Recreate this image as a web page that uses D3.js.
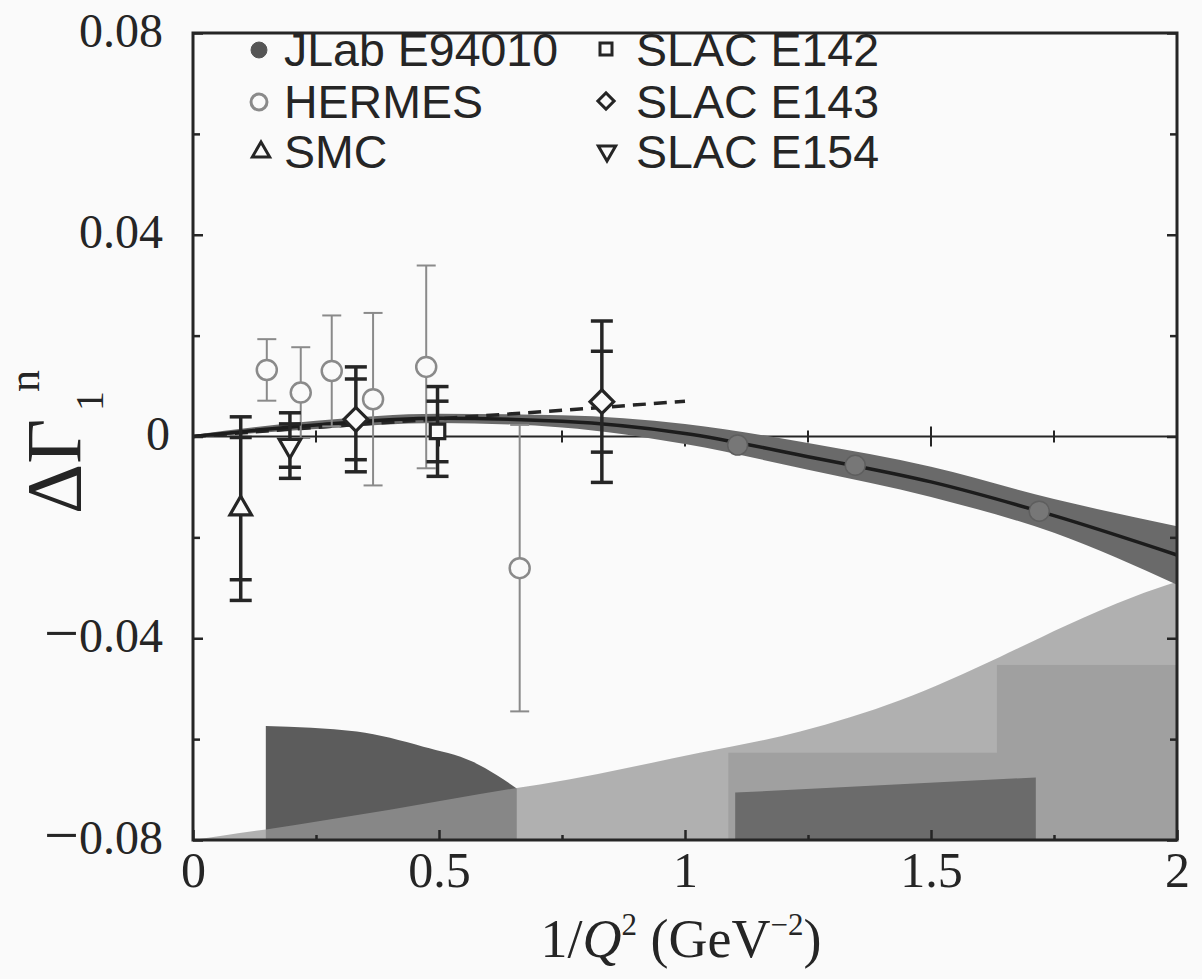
<!DOCTYPE html>
<html><head><meta charset="utf-8">
<script src="https://cdn.jsdelivr.net/npm/d3@7"></script>
<style>body{margin:0;background:#fafafa}svg{display:block}</style>
</head><body><svg id="c" width="1202" height="979"></svg>
<script>
// ---------- data ----------
const xTicks = [0, 0.5, 1, 1.5, 2];
const xTickLabels = ["0", "0.5", "1", "1.5", "2"];
const xMinorTicks = [0.25, 0.75, 1.25, 1.75];
const yTicks = [0.08, 0.04, 0, -0.04, -0.08];
const yTickLabels = ["0.08", "0.04", "0", "\u22120.04", "\u22120.08"];
const yMinorTicks = [0.06, 0.02, -0.02, -0.06];

const hermesX = [0.150, 0.219, 0.282, 0.366, 0.474, 0.664];
const hermesY = [0.0132, 0.0087, 0.0130, 0.0074, 0.0138, -0.0261];
const hermesErr = [0.0061, 0.0090, 0.0110, 0.0171, 0.0201, 0.0284];

const smcX = [0.097], smcY = [-0.0143], smcErr = [0.0182], smcStat = [0.0141];
const e154X = [0.197], e154Y = [-0.0018], e154Err = [0.0065], e154Stat = [0.0043];
const e143X = [0.331, 0.831], e143Y = [0.0034, 0.0069], e143Err = [0.0104, 0.0160], e143Stat = [0.0080, 0.0100];
const e142X = [0.497], e142Y = [0.0010], e142Err = [0.0089], e142Stat = [0.0060];

const jlabX = [1.107, 1.346, 1.720];
const jlabY = [-0.0017, -0.0057, -0.0148];

const curveX = [0, 0.25, 0.5, 0.75, 1, 1.25, 1.5, 1.75, 2];
const curveY = [0, 0.0023, 0.0036, 0.0030, 0.0006, -0.0040, -0.0090, -0.0157, -0.0235];
const bandHi = [0.0003, 0.0031, 0.0045, 0.0042, 0.0025, -0.0013, -0.0060, -0.0124, -0.0178];
const bandLo = [-0.0003, 0.0015, 0.0027, 0.0018, -0.0015, -0.0066, -0.0120, -0.0191, -0.0294];

const dashX = [0, 0.25, 0.5, 0.75, 1.0];
const dashY = [0, 0.0018, 0.0035, 0.0052, 0.0070];

// systematic-error regions at the bottom
const lightX = [0, 0.062, 0.148, 0.40, 0.658, 0.705, 1.03, 1.234, 1.437, 1.64, 1.776, 1.911, 2.0];
const lightY = [-0.080, -0.0791, -0.0779, -0.0740, -0.0697, -0.0690, -0.0627, -0.0585, -0.0523, -0.0437, -0.0374, -0.0318, -0.0288];
const darkTopX = [0.148, 0.333, 0.468, 0.569, 0.617, 0.658];
const darkTopY = [-0.0574, -0.0585, -0.0615, -0.0645, -0.0671, -0.0698];
const medX0 = [1.088, 1.634], medX1 = [1.634, 2.0], medTop = [-0.0627, -0.0453];
const darkRectX = [1.102, 1.713], darkRectTop = [-0.0706, -0.0676];

const legendNames = ["JLab E94010", "HERMES", "SMC", "SLAC E142", "SLAC E143", "SLAC E154"];

// ---------- scales ----------
const svg = d3.select("#c");
const x = d3.scaleLinear().domain([0, 2]).range([193, 1177]);
const y = d3.scaleLinear().domain([-0.08, 0.08]).range([840, 33]);
const INK = "#252525", GRAYINK = "#8a8a8a";
const serif = "'Liberation Serif','Times New Roman',serif";
const sans = "'Liberation Sans',Arial,Helvetica,sans-serif";

svg.append("rect").attr("width", 1202).attr("height", 979).attr("fill", "#fafafa");

// ---------- bottom shaded regions ----------
const darkLine = d3.line().x((d, i) => x(darkTopX[i])).y((d, i) => y(darkTopY[i])).curve(d3.curveMonotoneX);
svg.append("path")
  .attr("d", "M" + x(darkTopX[0]) + "," + y(-0.08) + "L" + darkLine(darkTopX).slice(1) +
             "L" + x(darkTopX[darkTopX.length - 1]) + "," + y(-0.08) + "Z")
  .attr("fill", "#5c5c5c");

const lightArea = d3.area().x((d, i) => x(lightX[i])).y0(y(-0.08)).y1((d, i) => y(lightY[i])).curve(d3.curveMonotoneX);
svg.append("path").datum(lightX).attr("d", lightArea).attr("fill", "rgb(150,150,150)").attr("fill-opacity", 0.74);

svg.selectAll("rect.med").data(medX0).join("rect").attr("class", "med")
  .attr("x", (d, i) => x(medX0[i])).attr("width", (d, i) => x(medX1[i]) - x(medX0[i]))
  .attr("y", (d, i) => y(medTop[i])).attr("height", (d, i) => y(-0.08) - y(medTop[i]))
  .attr("fill", "#a0a0a0");

svg.append("path")
  .attr("d", "M" + x(darkRectX[0]) + "," + y(-0.08) + "L" + x(darkRectX[0]) + "," + y(darkRectTop[0]) +
             "L" + x(darkRectX[1]) + "," + y(darkRectTop[1]) + "L" + x(darkRectX[1]) + "," + y(-0.08) + "Z")
  .attr("fill", "#6b6b6b");

// ---------- zero line with ticks ----------
svg.append("line").attr("x1", x(0)).attr("x2", x(2)).attr("y1", y(0)).attr("y2", y(0))
  .attr("stroke", INK).attr("stroke-width", 2);
svg.selectAll("line.zt").data(xTicks.slice(1, -1).concat(xMinorTicks)).join("line").attr("class", "zt")
  .attr("x1", d => x(d)).attr("x2", d => x(d))
  .attr("y1", d => y(0) - (xTicks.includes(d) ? 10 : 6)).attr("y2", d => y(0) + (xTicks.includes(d) ? 10 : 6))
  .attr("stroke", INK).attr("stroke-width", 2);

// ---------- band & curves ----------
const band = d3.area().x((d, i) => x(curveX[i])).y0((d, i) => y(bandLo[i])).y1((d, i) => y(bandHi[i])).curve(d3.curveMonotoneX);
svg.append("path").datum(curveX).attr("d", band).attr("fill", "#6a6a6a");

const dashLine = d3.line().x((d, i) => x(dashX[i])).y((d, i) => y(dashY[i])).curve(d3.curveMonotoneX);
svg.append("path").datum(dashX).attr("d", dashLine).attr("fill", "none")
  .attr("stroke", INK).attr("stroke-width", 3.5).attr("stroke-dasharray", "13,8");

const solid = d3.line().x((d, i) => x(curveX[i])).y((d, i) => y(curveY[i])).curve(d3.curveMonotoneX);
svg.append("path").datum(curveX).attr("d", solid).attr("fill", "none")
  .attr("stroke", "#1c1c1c").attr("stroke-width", 3.5);

svg.selectAll("circle.jlab").data(jlabX).join("circle").attr("class", "jlab")
  .attr("cx", (d, i) => x(jlabX[i])).attr("cy", (d, i) => y(jlabY[i])).attr("r", 10)
  .attr("fill", "#777").attr("stroke", "#5e5e5e").attr("stroke-width", 1.5);

// ---------- error bars ----------
function errBars(xs, ys, outer, inner, color, width, cap) {
  const g = svg.append("g").attr("stroke", color).attr("stroke-width", width).attr("fill", "none");
  xs.forEach((xv, i) => {
    const cx = x(xv);
    g.append("line").attr("x1", cx).attr("x2", cx).attr("y1", y(ys[i] + outer[i])).attr("y2", y(ys[i] - outer[i]));
    const levels = [ys[i] + outer[i], ys[i] - outer[i]];
    if (inner) levels.push(ys[i] + inner[i], ys[i] - inner[i]);
    levels.forEach(v => g.append("line").attr("x1", cx - cap / 2).attr("x2", cx + cap / 2).attr("y1", y(v)).attr("y2", y(v)));
  });
}
errBars(hermesX, hermesY, hermesErr, null, GRAYINK, 2, 19);
svg.selectAll("circle.her").data(hermesX).join("circle").attr("class", "her")
  .attr("cx", (d, i) => x(hermesX[i])).attr("cy", (d, i) => y(hermesY[i])).attr("r", 10)
  .attr("fill", "#fafafa").attr("stroke", GRAYINK).attr("stroke-width", 2.5);

errBars(smcX, smcY, smcErr, smcStat, INK, 3.5, 22);
errBars(e154X, e154Y, e154Err, e154Stat, INK, 3.5, 22);
errBars(e143X, e143Y, e143Err, e143Stat, INK, 3.5, 22);
errBars(e142X, e142Y, e142Err, e142Stat, INK, 3.5, 22);

function marks(xs, ys, type, size, rot) {
  const sym = d3.symbol().type(type).size(size);
  svg.selectAll(null).data(xs).join("path")
    .attr("transform", (d, i) => "translate(" + x(xs[i]) + "," + y(ys[i]) + ") rotate(" + rot + ")")
    .attr("d", sym).attr("fill", "#fafafa").attr("stroke", INK).attr("stroke-width", 3.2);
}
marks(smcX, smcY, d3.symbolTriangle, 200, 0);
marks(e154X, e154Y, d3.symbolTriangle, 200, 180);
marks(e143X, e143Y, d3.symbolSquare, 280, 45);
marks(e142X, e142Y, d3.symbolSquare, 210, 0);

// ---------- axes ----------
const axL = svg.append("g").attr("transform", "translate(" + x(0) + ",0)")
  .call(d3.axisLeft(y).tickValues(yTicks).tickFormat((d, i) => yTickLabels[i]).tickSize(-10).tickPadding(30));
const axLm = svg.append("g").attr("transform", "translate(" + x(0) + ",0)")
  .call(d3.axisLeft(y).tickValues(yMinorTicks).tickFormat("").tickSize(-7));
const axR = svg.append("g").attr("transform", "translate(" + x(2) + ",0)")
  .call(d3.axisRight(y).tickValues(yTicks).tickFormat("").tickSize(-10));
const axRm = svg.append("g").attr("transform", "translate(" + x(2) + ",0)")
  .call(d3.axisRight(y).tickValues(yMinorTicks).tickFormat("").tickSize(-7));
const axB = svg.append("g").attr("transform", "translate(0," + y(-0.08) + ")")
  .call(d3.axisBottom(x).tickValues(xTicks).tickFormat((d, i) => xTickLabels[i]).tickSize(-10));
const axBm = svg.append("g").attr("transform", "translate(0," + y(-0.08) + ")")
  .call(d3.axisBottom(x).tickValues(xMinorTicks).tickFormat("").tickSize(-5));
[axL, axLm, axR, axRm, axB, axBm].forEach(a => {
  a.select(".domain").remove();
  a.selectAll("line").attr("stroke", INK).attr("stroke-width", 2.5);
});
axL.selectAll("text").attr("font-family", serif).attr("font-size", 48).attr("fill", INK)
  .attr("dy", null).attr("y", 13)
  .attr("dx", (d) => d === 0 ? 7 : 0)
  .each(function () {
    const t = d3.select(this), s = t.text();
    if (s.charAt(0) === "\u2212") {
      t.text(null);
      t.append("tspan").attr("font-size", 62).attr("dy", 2).text("\u2212");
      t.append("tspan").attr("dy", -2).text(s.slice(1));
    }
  });
axB.selectAll("text").attr("font-family", serif).attr("font-size", 50).attr("fill", INK)
  .attr("dy", null).attr("y", 47);

// frame
svg.append("rect").attr("x", x(0)).attr("y", y(0.08)).attr("width", x(2) - x(0)).attr("height", y(-0.08) - y(0.08))
  .attr("fill", "none").attr("stroke", INK).attr("stroke-width", 3);

// ---------- axis titles ----------
const xt = svg.append("text").attr("x", 681).attr("y", 957).attr("text-anchor", "middle")
  .attr("font-family", serif).attr("font-size", 54).attr("fill", INK);
xt.append("tspan").text("1/");
xt.append("tspan").attr("font-style", "italic").text("Q");
xt.append("tspan").attr("font-size", 31).attr("dy", -22).text("2");
xt.append("tspan").attr("dy", 22).text(" (GeV");
xt.append("tspan").attr("font-size", 31).attr("dy", -22).text("\u22122");
xt.append("tspan").attr("dy", 22).text(")");

const yt = svg.append("g").attr("transform", "translate(80,514) rotate(-90)")
  .attr("font-family", serif).attr("fill", INK);
yt.append("text").attr("x", 0).attr("y", 0).attr("font-size", 78).text("\u0394\u0393");
yt.append("text").attr("x", 103).attr("y", 23).attr("font-size", 40).text("1");
yt.append("text").attr("x", 122).attr("y", -41).attr("font-size", 44).text("n");

// ---------- legend ----------
const legX = [259, 259, 261, 606, 606, 607];
const legTX = [284, 284, 284, 636, 636, 636];
const legY = [50, 102, 152, 49, 101, 151];
const legTY = [66, 118, 168, 66, 118, 168];
const legSym = [d3.symbolCircle, d3.symbolCircle, d3.symbolTriangle, d3.symbolSquare, d3.symbolSquare, d3.symbolTriangle];
const legSize = [200, 200, 130, 144, 132, 130];
const legRot = [0, 0, 0, 0, 45, 180];
const legFill = ["#555", "#fafafa", "#fafafa", "#fafafa", "#fafafa", "#fafafa"];
const legStroke = ["#555", GRAYINK, INK, INK, INK, INK];
const lg = svg.append("g");
lg.selectAll("path").data(legendNames).join("path")
  .attr("transform", (d, i) => "translate(" + legX[i] + "," + legY[i] + ") rotate(" + legRot[i] + ")")
  .attr("d", (d, i) => d3.symbol().type(legSym[i]).size(legSize[i])())
  .attr("fill", (d, i) => legFill[i]).attr("stroke", (d, i) => legStroke[i])
  .attr("stroke-width", (d, i) => i === 0 ? 1 : 3);
lg.selectAll("text").data(legendNames).join("text")
  .attr("x", (d, i) => legTX[i]).attr("y", (d, i) => legTY[i])
  .attr("font-family", sans).attr("font-size", 46.5).attr("fill", INK).text(d => d);
</script></body></html>
